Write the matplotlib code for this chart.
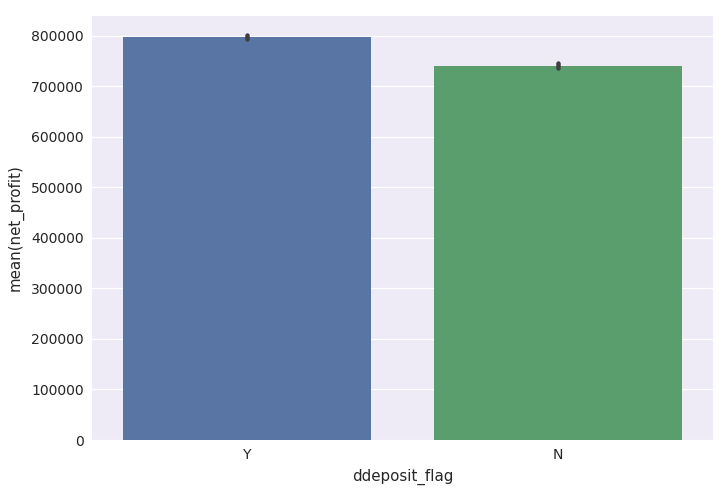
import numpy as np
import matplotlib
matplotlib.use("Agg")
import matplotlib.pyplot as plt

# values
flags = ["Y", "N"]
mean_profit = [798000, 740500]
ci_low = [795000, 736000]
ci_high = [802000, 747000]
colors = ["#5975a4", "#5a9e6e"]

fig = plt.figure(figsize=(723 / 72, 489 / 72), dpi=72)
ax = fig.add_axes([92 / 723, 1 - 440 / 489, (713 - 92) / 723, (440 - 16) / 489])
ax.set_facecolor("#eeebf6")
for s in ax.spines.values():
    s.set_visible(False)

x = np.arange(len(flags))
ax.bar(x, mean_profit, width=0.8, color=colors, zorder=2)
for xi, lo, hi in zip(x, ci_low, ci_high):
    ax.plot([xi, xi], [lo, hi], color="#3f3f3f", lw=4.5, solid_capstyle="round", zorder=3)

ax.set_xlim(-0.5, 1.5)
ax.set_ylim(0, 839600)
ax.set_yticks(np.arange(0, 800001, 100000))
ax.set_xticks(x)
ax.set_xticklabels(flags)
ax.yaxis.grid(True, color="white", lw=1.2, zorder=1)
ax.set_axisbelow(True)
ax.tick_params(length=0, labelsize=14, colors="#262626", pad=8)
ax.set_xlabel("ddeposit_flag", fontsize=15, color="#262626", labelpad=7)
ax.set_ylabel("mean(net_profit)", fontsize=15, color="#262626", labelpad=8)

fig.savefig("out.png", dpi=72)
